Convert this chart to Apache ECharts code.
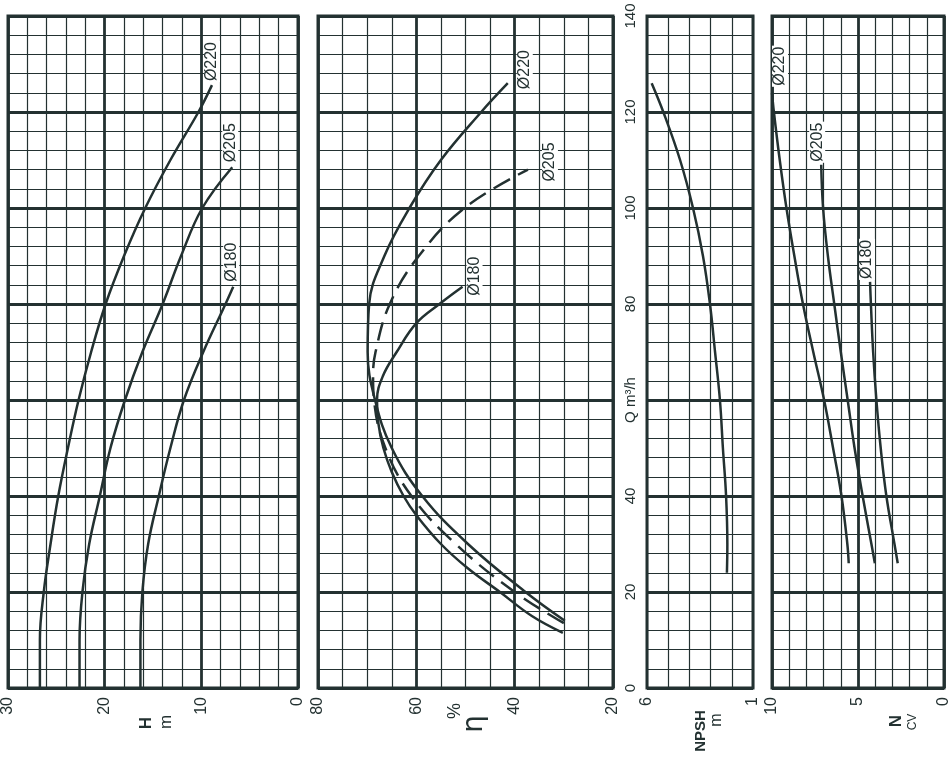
<!DOCTYPE html>
<html><head><meta charset="utf-8">
<script src="https://cdn.jsdelivr.net/npm/echarts@6/dist/echarts.min.js"></script>
<style>html,body{margin:0;padding:0;background:#fff}#c{width:952px;height:764px}</style>
</head><body><div id="c"></div>
<script>
// ---- Q axis (m3/h) ----
const qTicks = [0, 20, 40, 60, 80, 100, 120, 140];

// ---- Head H (m) ----
const hQ220 = [0, 10, 20, 30, 40, 50, 60, 70, 80, 90, 100, 110, 120, 125.6];
const h220  = [26.7, 26.7, 26.3, 25.6, 24.8, 23.8, 22.7, 21.4, 19.9, 18.0, 15.8, 13.2, 10.3, 8.9];
const hQ205 = [0, 10, 20, 30, 40, 50, 60, 70, 80, 90, 100, 108.5];
const h205  = [22.6, 22.6, 22.3, 21.6, 20.5, 19.4, 17.9, 16.1, 14.0, 12.1, 9.9, 6.8];
const hQ180 = [0, 10, 20, 30, 40, 50, 60, 70, 80, 83.6];
const h180  = [16.3, 16.3, 16.1, 15.5, 14.4, 13.2, 11.8, 9.8, 7.5, 6.7];

// ---- Efficiency eta (%) ----
const eQ220 = [14, 20, 30, 40, 50, 60, 70, 80, 90, 100, 110, 120, 126];
const e220  = [29.8, 37.8, 49.5, 58.8, 65.0, 68.4, 69.9, 69.6, 66.5, 61.4, 55.0, 46.8, 41.4];
const eQ205 = [13.5, 20, 30, 40, 50, 60, 65, 70, 80, 90, 100, 108];
const e205  = [30, 40, 52, 61, 66.3, 68.6, 68.8, 68.3, 65.4, 59.5, 50.2, 37.3];
const eQ180 = [11.5, 15, 20, 25, 30, 36, 40, 45, 50, 55, 60, 65, 70, 76, 80, 83.6];
const e180  = [30.2, 36.5, 43, 49.6, 55, 60, 62.6, 65, 66.7, 67.7, 68, 66.8, 64, 60, 55.3, 50.6];

// ---- NPSH (m) ----
const nQ = [24, 30, 40, 50, 60, 70, 80, 90, 100, 110, 120, 126];
const npsh = [2.23, 2.21, 2.27, 2.42, 2.56, 2.79, 3.03, 3.36, 3.83, 4.44, 5.23, 5.78];

// ---- Power N (CV) ----
const pQ220 = [26, 30, 40, 50, 60, 70, 80, 90, 100, 110, 120, 124];
const p220  = [5.54, 5.62, 5.96, 6.45, 6.97, 7.6, 8.2, 8.7, 9.16, 9.55, 9.89, 10.0];
const pQ205 = [26, 30, 40, 50, 60, 70, 80, 90, 100, 109];
const p205  = [4.02, 4.22, 4.73, 5.2, 5.6, 6.0, 6.38, 6.75, 7.03, 7.14];
const pQ180 = [26, 30, 40, 50, 60, 70, 80, 84.6];
const p180  = [2.69, 2.88, 3.35, 3.68, 3.93, 4.12, 4.25, 4.3];

// ---- tick labels ----
const hTicks = [0, 10, 20, 30];
const eTicks = [20, 40, 60, 80];
const npshTicks = [1, 6];
const nTicks = [0, 5, 10];
const diamNames = ['Ø220', 'Ø205', 'Ø180'];

const INK = '#233131';
const FONT = '"Liberation Sans", Arial, sans-serif';

const chart = echarts.init(document.getElementById('c'), null, {renderer: 'canvas'});

const grids = [
  {left: 6, top: 16, width: 292, height: 672},
  {left: 318, top: 16, width: 295, height: 672},
  {left: 647, top: 16, width: 106, height: 672},
  {left: 772, top: 16, width: 176, height: 672}
].map(g => Object.assign({show: true, borderColor: INK, borderWidth: 3, backgroundColor: 'transparent', containLabel: false}, g));

function xAx(i, min, max, interval, minorN, ticks, majorW) {
  return {
    type: 'value', gridIndex: i, min: min, max: max, interval: interval, inverse: true, position: 'bottom',
    axisLine: {show: false}, axisTick: {show: false},
    axisLabel: {show: true, rotate: 90, margin: 9, fontSize: 16, color: INK, fontFamily: FONT,
      formatter: v => ticks.indexOf(v) >= 0 ? String(v) : ''},
    splitLine: {show: true, lineStyle: {color: INK, width: majorW}},
    minorTick: {show: false, splitNumber: minorN},
    minorSplitLine: {show: minorN > 1, lineStyle: {color: INK, width: 1.2}}
  };
}
function yAx(i, showLabel) {
  return {
    type: 'value', gridIndex: i, min: qTicks[0], max: qTicks[qTicks.length - 1], interval: 20,
    position: showLabel ? 'right' : 'left',
    axisLine: {show: false}, axisTick: {show: false},
    axisLabel: {show: showLabel, rotate: 90, margin: 10, fontSize: 15, color: INK, fontFamily: FONT,
      formatter: v => v === 60 ? 'Q m³/h' : String(v)},
    splitLine: {show: true, lineStyle: {color: INK, width: 2.8}},
    minorTick: {show: false, splitNumber: 5},
    minorSplitLine: {show: true, lineStyle: {color: INK, width: 1.2}}
  };
}

function zip(vals, qs) { return vals.map((v, k) => [v, qs[k]]); }
function line(i, vals, qs, dashed) {
  return {
    type: 'line', xAxisIndex: i, yAxisIndex: i, data: zip(vals, qs), smooth: 0.4,
    showSymbol: false, symbol: 'none', silent: true,
    lineStyle: {color: INK, width: 2.5, type: dashed ? [19, 9] : 'solid'}, z: 5
  };
}

const curves = {
  H:   [[h220, hQ220], [h205, hQ205], [h180, hQ180]],
  E:   [[e220, eQ220], [e205, eQ205], [e180, eQ180]],
  N:   [[p220, pQ220], [p205, pQ205], [p180, pQ180]]
};

chart.setOption({
  animation: false,
  backgroundColor: '#fff',
  grid: grids,
  xAxis: [
    xAx(0, 0, 30, 10, 5, hTicks, 2.8),
    xAx(1, 20, 80, 20, 4, eTicks, 2.8),
    xAx(2, 1, 6, 1, 1, npshTicks, 1.2),
    xAx(3, 0, 10, 5, 5, nTicks, 2.8)
  ],
  yAxis: [yAx(0, false), yAx(1, true), yAx(2, false), yAx(3, false)],
  series: [
    line(0, h220, hQ220), line(0, h205, hQ205), line(0, h180, hQ180),
    line(1, e220, eQ220), line(1, e205, eQ205, true), line(1, e180, eQ180),
    line(2, npsh, nQ),
    line(3, p220, pQ220), line(3, p205, pQ205), line(3, p180, pQ180)
  ]
});

// curve name labels anchored at each curve end
const labelOffsets = {
  H: [[0, -3], [-2, -4], [-2, -4]],
  E: [[17, 7], [22, 13], [12, 10]],
  N: [[8, -6], [-4, -2], [-3, -2]]
};
const panelIdx = {H: 0, E: 1, N: 3};
const graphics = [];
Object.keys(curves).forEach(key => {
  curves[key].forEach((c, k) => {
    const vals = c[0], qs = c[1];
    const p = chart.convertToPixel({gridIndex: panelIdx[key]}, [vals[vals.length - 1], qs[qs.length - 1]]);
    const off = labelOffsets[key][k];
    graphics.push({
      type: 'text', x: p[0] + off[0], y: p[1] + off[1], rotation: Math.PI / 2, z: 10,
      style: {text: diamNames[k], fill: INK, font: '16px ' + FONT, align: 'left', verticalAlign: 'middle',
        backgroundColor: '#fff', padding: [0, 1]}
    });
  });
});
function rtext(text, x, y, font, align) {
  return {type: 'text', x: x, y: y, rotation: Math.PI / 2, z: 10,
    style: {text: text, fill: INK, font: font, align: align || 'center', verticalAlign: 'middle'}};
}
graphics.push(rtext('H', 146, 723, 'bold 17px ' + FONT));
graphics.push(rtext('m', 166, 722, '17px ' + FONT));
graphics.push(rtext('%', 455, 711, '18px ' + FONT));
graphics.push(rtext('η', 475, 724, '28px "DejaVu Sans", sans-serif'));
graphics.push(rtext('NPSH', 701, 731, 'bold 15px ' + FONT));
graphics.push(rtext('m', 717, 720, '16px ' + FONT));
graphics.push(rtext('N', 896, 721, 'bold 17px ' + FONT));
graphics.push(rtext('CV', 913, 722, '12px ' + FONT));
chart.setOption({graphic: graphics});
</script>
</body></html>
